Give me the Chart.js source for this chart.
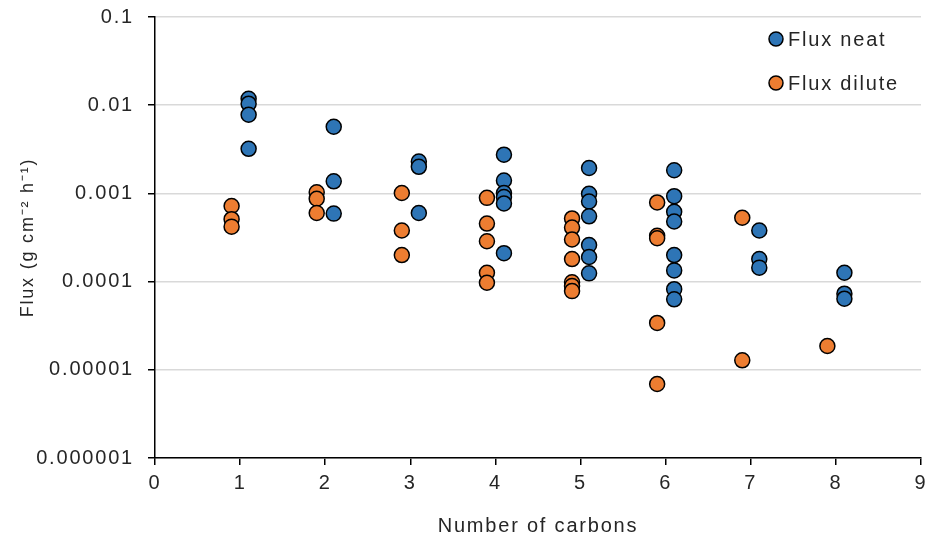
<!DOCTYPE html>
<html>
<head>
<meta charset="utf-8">
<script src="https://cdn.jsdelivr.net/npm/chart.js@4.4.1/dist/chart.umd.min.js"></script>
<style>
  html, body { margin: 0; padding: 0; background: #fff; }
  #wrap { width: 935px; height: 540px; }
</style>
</head>
<body>
<div id="wrap"><canvas id="chart"></canvas></div>
<script>
// x positions (number of carbons, offset as plotted) and flux values
var neatX = [1.1, 1.1, 1.1, 1.1,
             2.1, 2.1, 2.1,
             3.1, 3.1, 3.1,
             4.1, 4.1, 4.1, 4.1, 4.1, 4.1,
             5.1, 5.1, 5.1, 5.1, 5.1, 5.1, 5.1,
             6.1, 6.1, 6.1, 6.1, 6.1, 6.1, 6.1, 6.1,
             7.1, 7.1, 7.1,
             8.1, 8.1, 8.1];
var neatFlux = [0.0118, 0.0104, 0.0078, 0.0032,
                0.0057, 0.00137, 0.00059,
                0.0023, 0.0020, 0.0006,
                0.00275, 0.0014, 0.00101, 0.00091, 0.00077, 0.00021,
                0.00194, 0.00099, 0.00081, 0.00055, 0.00026, 0.00019, 0.000124,
                0.00183, 0.00093, 0.00062, 0.00048, 0.0002, 0.000134, 0.000082, 0.000063,
                0.00038, 0.00018, 0.000144,
                0.000126, 0.000073, 0.000064];

var diluteX = [0.9, 0.9, 0.9,
               1.9, 1.9, 1.9,
               2.9, 2.9, 2.9,
               3.9, 3.9, 3.9, 3.9, 3.9,
               4.9, 4.9, 4.9, 4.9, 4.9, 4.9, 4.9,
               5.9, 5.9, 5.9, 5.9, 5.9,
               6.9, 6.9,
               7.9];
var diluteFlux = [0.00072, 0.00051, 0.00042,
                  0.00103, 0.00087, 0.0006,
                  0.00101, 0.00038, 0.0002,
                  0.00089, 0.000455, 0.000287, 0.000126, 0.000097,
                  0.00052, 0.00041, 0.0003, 0.00018, 0.000098, 0.000089, 0.000078,
                  0.00079, 0.00033, 0.00031, 0.000034, 0.0000069,
                  0.00053, 0.0000128,
                  0.0000186];

var yTicks = [0.1, 0.01, 0.001, 0.0001, 0.00001, 0.000001];
var yTickLabels = ['0.1', '0.01', '0.001', '0.0001', '0.00001', '0.000001'];
var seriesNames = ['Flux neat', 'Flux dilute'];

function toPoints(xs, ys) {
  var pts = [];
  for (var i = 0; i < xs.length; i++) pts.push({ x: xs[i], y: ys[i] });
  return pts;
}

var FONT = '"Liberation Sans", Arial, sans-serif';
var TEXT = '#262626';

// the original text is set wide, so spread the letters a little
var wideText = {
  id: 'wideText',
  beforeLayout: function (chart) { chart.ctx.letterSpacing = '1.8px'; },
  beforeDraw: function (chart) { chart.ctx.letterSpacing = '1.8px'; }
};

// legend drawn inside the plot, top right
var cornerLegend = {
  id: 'cornerLegend',
  afterDraw: function (chart) {
    var ctx = chart.ctx;
    ctx.save();
    ctx.font = '20px ' + FONT;
    ctx.textBaseline = 'middle';
    chart.data.datasets.forEach(function (ds, i) {
      var cy = 39 + i * 44;
      ctx.beginPath();
      ctx.arc(776, cy, 7, 0, Math.PI * 2);
      ctx.fillStyle = ds.backgroundColor;
      ctx.fill();
      ctx.lineWidth = 1.5;
      ctx.strokeStyle = '#000';
      ctx.stroke();
      ctx.fillStyle = TEXT;
      ctx.fillText(ds.label, 788, cy + 1);
    });
    ctx.restore();
  }
};

new Chart(document.getElementById('chart'), {
  type: 'scatter',
  data: {
    datasets: [{
      label: seriesNames[0],
      data: toPoints(neatX, neatFlux),
      backgroundColor: '#2E75B6',
      borderColor: '#000',
      borderWidth: 1.5,
      pointRadius: 7.5,
      pointHoverRadius: 7.5
    }, {
      label: seriesNames[1],
      data: toPoints(diluteX, diluteFlux),
      backgroundColor: '#ED7D31',
      borderColor: '#000',
      borderWidth: 1.5,
      pointRadius: 7.5,
      pointHoverRadius: 7.5
    }]
  },
  options: {
    responsive: true,
    maintainAspectRatio: false,
    animation: false,
    layout: { padding: { top: 17, right: 14, left: 0, bottom: 0 } },
    plugins: {
      legend: { display: false },
      tooltip: { enabled: false }
    },
    scales: {
      x: {
        type: 'linear',
        min: 0,
        max: 9,
        ticks: { stepSize: 1, color: TEXT, font: { family: FONT, size: 20 }, padding: 6 },
        grid: { drawOnChartArea: false, drawTicks: true, tickLength: 7, tickColor: '#000', lineWidth: 1.5 },
        border: { color: '#000', width: 1.5 },
        title: { display: true, text: 'Number of carbons', color: TEXT, font: { family: FONT, size: 20 }, padding: { top: 12, bottom: 2 } },
        afterFit: function (scale) { scale.height = 82; }
      },
      y: {
        type: 'logarithmic',
        min: 0.000001,
        max: 0.1,
        afterBuildTicks: function (scale) {
          scale.ticks = yTicks.map(function (v) { return { value: v }; });
        },
        ticks: {
          color: TEXT,
          font: { family: FONT, size: 20 },
          padding: 14,
          callback: function (v) {
            var i = yTicks.indexOf(v);
            return i >= 0 ? yTickLabels[i] : '';
          }
        },
        grid: { color: '#d9d9d9', lineWidth: 1.5, drawTicks: true, tickLength: 7, tickColor: '#000' },
        border: { color: '#000', width: 1.5 },
        title: { display: true, text: 'Flux (g cm⁻² h⁻¹)', color: TEXT, font: { family: FONT, size: 18 }, padding: { top: 17, bottom: 4 } },
        afterFit: function (scale) {
          scale.width = 155;
          scale.paddingTop = 0;
          scale.paddingBottom = 0;
        }
      }
    }
  },
  plugins: [wideText, cornerLegend]
});
</script>
</body>
</html>
